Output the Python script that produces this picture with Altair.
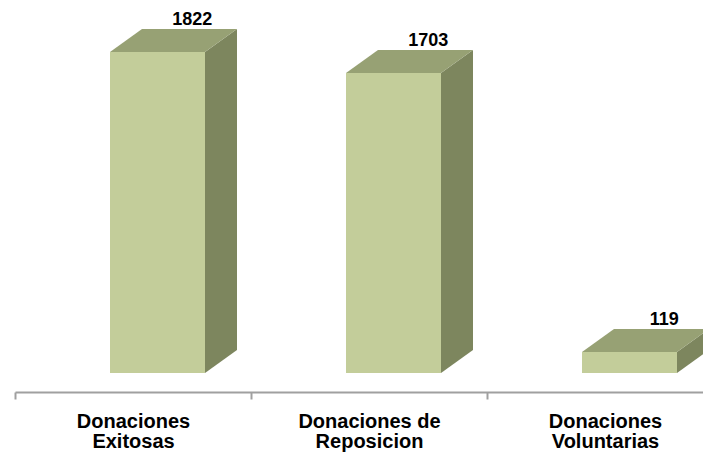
import json
import altair as alt
import pandas as pd

# ---- data ----
categories = ["Donaciones Exitosas", "Donaciones de Reposicion", "Donaciones Voluntarias"]
label_lines = [["Donaciones", "Exitosas"], ["Donaciones de", "Reposicion"], ["Donaciones", "Voluntarias"]]
values = [1822, 1703, 119]

# ---- geometry / style constants ----
BAND_PX = 236
W, H = 688, 384
PAD_L, PAD_B = 7, 61
X_MAX = W / BAND_PX
PX_PER_UNIT = 321 / 1822
BASE_PX = 19
Y_MIN = -BASE_PX / PX_PER_UNIT
Y_MAX = (H - BASE_PX) / PX_PER_UNIT
L, R = 95 / BAND_PX, 190 / BAND_PX
DX = 32 / BAND_PX
DY = 23 / PX_PER_UNIT
LABEL_X = 0.751

FRONT = "#C3CD9A"
TOP = "#97A174"
SIDE = "#7D865E"
AXIS_GRAY = "#A0A0A0"
FONT = "Liberation Sans"

front_rows, side_rows, top_rows = [], [], []
for i, (c, v) in enumerate(zip(categories, values)):
    front_rows.append({"cat": c, "x0": i + L, "x1": i + R, "base": 0, "value": v,
                       "xl": i + LABEL_X, "yl": v + DY, "txt": str(v)})
    side_rows.append({"cat": c, "x": i + R, "lo": 0, "hi": v})
    side_rows.append({"cat": c, "x": i + R + DX, "lo": DY, "hi": v + DY})
    top_rows.append({"cat": c, "y": v, "xa": i + L, "xb": i + R})
    top_rows.append({"cat": c, "y": v + DY, "xa": i + L + DX, "xb": i + R + DX})

front_df = pd.DataFrame(front_rows)
side_df = pd.DataFrame(side_rows)
top_df = pd.DataFrame(top_rows)

xs = alt.Scale(domain=[0, X_MAX], nice=False, zero=False)
ys = alt.Scale(domain=[Y_MIN, Y_MAX], nice=False, zero=False)

label_expr = f"datum.value % 1 == 0 ? '' : {json.dumps(label_lines)}[floor(datum.value)]"
xaxis = alt.Axis(
    values=[0, 0.5, 1, 1.5, 2, 2.5],
    labelExpr=label_expr,
    title=None,
    grid=False,
    domainColor=AXIS_GRAY,
    domainWidth=2,
    tickColor=AXIS_GRAY,
    tickWidth=2,
    tickSize=7,
    tickOpacity={"condition": {"test": "datum.value % 1 != 0", "value": 0}, "value": 1},
    labelFont=FONT,
    labelFontSize=20,
    labelFontWeight="bold",
    labelColor="#000000",
    labelPadding=12,
    labelLineHeight=20,
    labelBaseline="top",
    labelAlign="center",
    labelFlush=False,
    labelOverlap=False,
    labelBound=False,
)

side = alt.Chart(side_df).mark_area(orient="vertical", color=SIDE, opacity=1).encode(
    x=alt.X("x:Q", scale=xs, axis=xaxis),
    y=alt.Y("lo:Q", scale=ys, axis=None),
    y2="hi:Q",
    detail="cat:N",
)

top = alt.Chart(top_df).mark_area(orient="horizontal", color=TOP, opacity=1).encode(
    y=alt.Y("y:Q", scale=ys, axis=None),
    x=alt.X("xa:Q", scale=xs, axis=xaxis),
    x2="xb:Q",
    detail="cat:N",
)

front = alt.Chart(front_df).mark_rect(color=FRONT).encode(
    x=alt.X("x0:Q", scale=xs, axis=xaxis),
    x2="x1:Q",
    y=alt.Y("base:Q", scale=ys, axis=None),
    y2="value:Q",
)

labels = alt.Chart(front_df).mark_text(
    font=FONT, fontSize=18, fontWeight="bold", color="#000000",
    baseline="alphabetic", align="center", dy=-4,
).encode(
    x=alt.X("xl:Q", scale=xs, axis=xaxis),
    y=alt.Y("yl:Q", scale=ys, axis=None),
    text="txt:N",
)

chart = alt.layer(side, top, front, labels).properties(
    width=W,
    height=H,
    autosize=alt.AutoSizeParams(type="none"),
    padding={"left": PAD_L, "top": 0, "right": 0, "bottom": PAD_B},
    background="white",
).configure_view(strokeWidth=0)

chart.save("out.html", embed_options={"renderer": "svg", "actions": False})
